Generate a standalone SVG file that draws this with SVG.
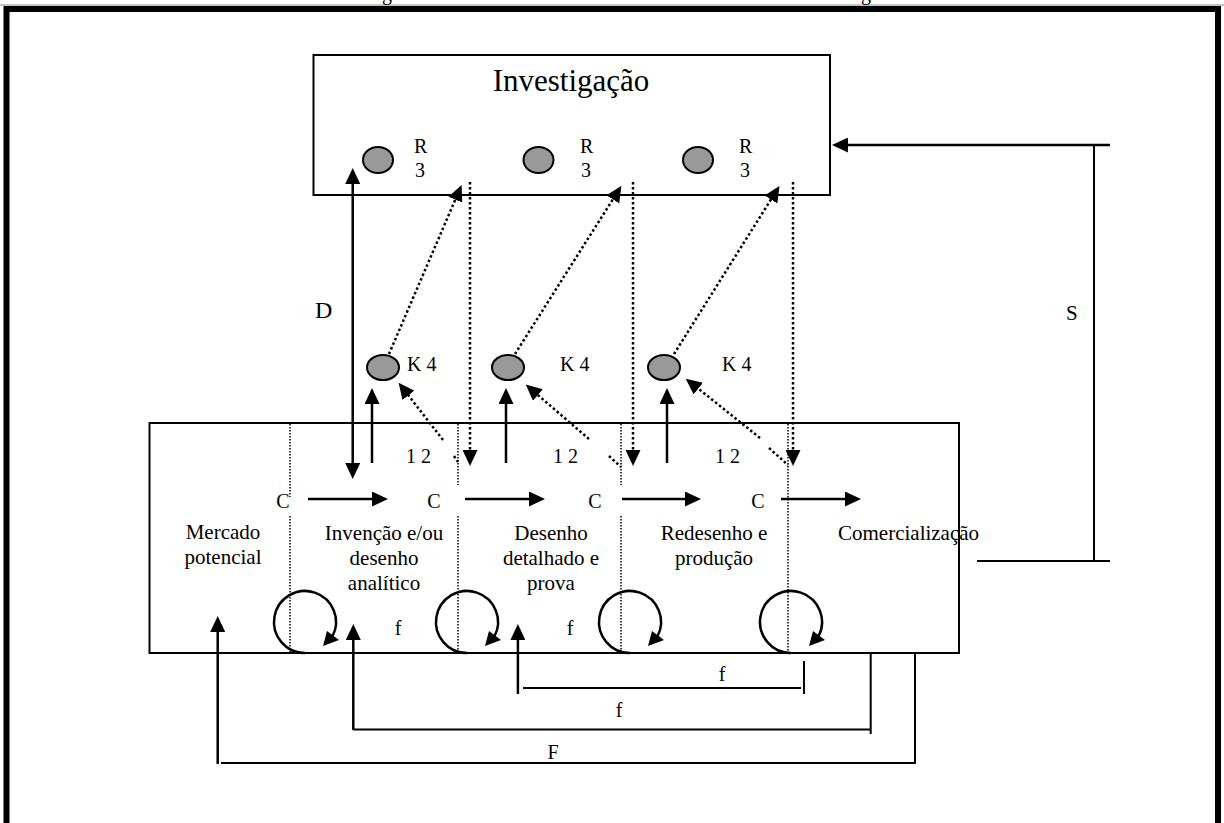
<svg xmlns="http://www.w3.org/2000/svg" xmlns:xlink="http://www.w3.org/1999/xlink" width="1224" height="823" viewBox="0 0 1224 823">
  <style>
    text { font-family: "Liberation Serif", "Times New Roman", serif; fill: #000; }
    .box { fill: #fff; stroke: #000; stroke-width: 2; }
    .ln { stroke: #000; stroke-width: 2.5; fill: none; }
    .fb { stroke: #000; stroke-width: 2; fill: none; }
    .dot { stroke: #000; stroke-width: 2.5; stroke-dasharray: 2.5 2.5; fill: none; }
    .div { stroke: #000; stroke-width: 1.5; stroke-dasharray: 1.5 1.5; fill: none; }
    .res { fill: #999; stroke: #000; stroke-width: 2; }
    .lbl { font-size: 20px; }
    .stage { font-size: 21px; }
    .mid { text-anchor: middle; }
    .arr { marker-end: url(#ah); }
  </style>
  <defs>
    <marker id="ah" viewBox="0 0 16 15" refX="1" refY="7.5" markerWidth="16" markerHeight="15" markerUnits="userSpaceOnUse" orient="auto-start-reverse">
      <path d="M0,0 L16,7.5 L0,15 z" fill="#000"/>
    </marker>
    <!-- feedback loop drawn round its centre -->
    <g id="loop">
      <path d="M0,31 A31,31 0 1 1 27.4,14.5" stroke="#000" stroke-width="2.5" fill="none"/>
      <polygon points="18,24 34,18 22,9" fill="#000"/>
    </g>
  </defs>

  <rect width="1224" height="823" fill="#fff"/>

  <!-- page frame -->
  <line x1="0" y1="5" x2="1224" y2="5" stroke="#888" stroke-width="1"/>
  <path d="M6.5,823 V9 H1218 V823" stroke="#000" stroke-width="6" fill="none"/>
  <text class="lbl" x="382" y="0">g</text>
  <text class="lbl" x="861" y="0">g</text>

  <!-- research box -->
  <g id="investigacao">
    <rect class="box" x="313.5" y="55" width="516.5" height="140"/>
    <text class="mid" x="571" y="91" font-size="31">Investigação</text>
    <ellipse class="res" cx="378" cy="160" rx="15" ry="13"/>
    <ellipse class="res" cx="538.5" cy="160" rx="15" ry="13"/>
    <ellipse class="res" cx="698" cy="160" rx="15" ry="13"/>
    <text class="lbl" x="414" y="153">R</text>
    <text class="lbl" x="415" y="177">3</text>
    <text class="lbl" x="580" y="153">R</text>
    <text class="lbl" x="581" y="177">3</text>
    <text class="lbl" x="739" y="153">R</text>
    <text class="lbl" x="740" y="177">3</text>
  </g>

  <!-- knowledge nodes -->
  <g id="k1">
    <ellipse class="res" cx="383" cy="367.5" rx="16" ry="12.5"/>
    <text class="lbl" x="407" y="371">K 4</text>
  </g>
  <g id="k2">
    <ellipse class="res" cx="508" cy="367.5" rx="16" ry="12.5"/>
    <text class="lbl" x="560" y="371">K 4</text>
  </g>
  <g id="k3">
    <ellipse class="res" cx="664" cy="367.5" rx="16" ry="12.5"/>
    <text class="lbl" x="722" y="371">K  4</text>
  </g>

  <!-- chain of innovation stages -->
  <g id="cadeia">
    <rect class="box" x="149.5" y="423" width="809.5" height="230"/>
    <line class="div" x1="290" y1="424" x2="290" y2="497"/>
    <line class="div" x1="290" y1="516" x2="290" y2="652"/>
    <line class="div" x1="458" y1="424" x2="458" y2="485"/>
    <line class="div" x1="458" y1="516" x2="458" y2="652"/>
    <line class="div" x1="621" y1="424" x2="621" y2="485"/>
    <line class="div" x1="621" y1="516" x2="621" y2="652"/>
    <line class="div" x1="788" y1="424" x2="788" y2="652"/>

    <text class="lbl mid" x="283" y="508">C</text>
    <text class="lbl mid" x="434" y="508">C</text>
    <text class="lbl mid" x="595" y="508">C</text>
    <text class="lbl mid" x="758" y="508">C</text>

    <text class="lbl" x="406" y="463">1 2</text>
    <text class="lbl" x="553" y="463">1 2</text>
    <text class="lbl" x="715" y="463">1 2</text>

    <text class="stage mid" x="223" y="539">Mercado</text>
    <text class="stage mid" x="223" y="564">potencial</text>
    <text class="stage mid" x="384" y="540">Invenção e/ou</text>
    <text class="stage mid" x="384" y="565">desenho</text>
    <text class="stage mid" x="384" y="590">analítico</text>
    <text class="stage mid" x="551" y="540">Desenho</text>
    <text class="stage mid" x="551" y="565">detalhado e</text>
    <text class="stage mid" x="551" y="590">prova</text>
    <text class="stage mid" x="714" y="540">Redesenho e</text>
    <text class="stage mid" x="714" y="565">produção</text>
    <text class="stage" x="838" y="540">Comercialização</text>

    <text class="lbl mid" x="398" y="635">f</text>
    <text class="lbl mid" x="570" y="635">f</text>

    <use xlink:href="#loop" x="305" y="622"/>
    <use xlink:href="#loop" x="467" y="622"/>
    <use xlink:href="#loop" x="630" y="622"/>
    <use xlink:href="#loop" x="791" y="622"/>
  </g>

  <!-- connectors -->
  <g id="connectors">
    <!-- stage-to-stage links -->
    <line class="ln arr" x1="308" y1="499" x2="373" y2="499"/>
    <line class="ln arr" x1="465" y1="499" x2="530" y2="499"/>
    <line class="ln arr" x1="622" y1="499" x2="686" y2="499"/>
    <line class="ln arr" x1="781" y1="499" x2="846" y2="499"/>

    <!-- D: two-way link between research and invention -->
    <line class="ln" x1="352.7" y1="183" x2="352.7" y2="464" marker-start="url(#ah)" marker-end="url(#ah)"/>
    <text x="315" y="318" font-size="24">D</text>

    <!-- stages feeding knowledge -->
    <line class="ln arr" x1="372" y1="463" x2="372" y2="403"/>
    <line class="ln arr" x1="506" y1="463" x2="506" y2="403"/>
    <line class="ln arr" x1="667" y1="463" x2="667" y2="403"/>

    <!-- knowledge to research -->
    <line class="dot arr" x1="389" y1="354" x2="455.7" y2="198.7"/>
    <line class="dot arr" x1="515" y1="354" x2="613.4" y2="198.5"/>
    <line class="dot arr" x1="674" y1="354" x2="771.5" y2="198.6"/>

    <!-- research back to the stages -->
    <line class="dot arr" x1="470" y1="182" x2="470" y2="451"/>
    <line class="dot arr" x1="633" y1="182" x2="633" y2="451"/>
    <line class="dot arr" x1="793" y1="182" x2="793" y2="451"/>

    <!-- stages back to knowledge -->
    <line class="dot arr" x1="443" y1="440" x2="407.8" y2="394.6"/>
    <line class="dot" x1="454" y1="456" x2="458" y2="462"/>
    <line class="dot arr" x1="589" y1="439" x2="537.1" y2="394.4"/>
    <line class="dot" x1="609" y1="456" x2="621" y2="467"/>
    <line class="dot arr" x1="760" y1="438" x2="697.5" y2="388"/>
    <line class="dot" x1="769" y1="448" x2="788" y2="465"/>

    <!-- S: market feedback to research -->
    <line class="ln arr" x1="1110" y1="145" x2="847" y2="145"/>
    <line class="fb" x1="1094" y1="145" x2="1094" y2="561"/>
    <line class="fb" x1="977" y1="561" x2="1110" y2="561"/>
    <text x="1066" y="320" font-size="21">S</text>

    <!-- short feedback f -->
    <line class="ln arr" x1="517.9" y1="694" x2="517.9" y2="639"/>
    <line class="fb" x1="523" y1="688" x2="801" y2="688"/>
    <line class="fb" x1="804" y1="661" x2="804" y2="694"/>
    <text class="lbl mid" x="722" y="681">f</text>

    <!-- feedback f -->
    <line class="ln arr" x1="353.3" y1="730" x2="353.3" y2="639"/>
    <line class="fb" x1="353.3" y1="729.5" x2="870.7" y2="729.5"/>
    <line class="fb" x1="870.7" y1="653" x2="870.7" y2="734"/>
    <text class="lbl mid" x="619" y="717">f</text>

    <!-- overall feedback F -->
    <line class="ln arr" x1="217.7" y1="764" x2="217.7" y2="631"/>
    <line class="fb" x1="221" y1="763" x2="915" y2="763"/>
    <line class="fb" x1="915" y1="653" x2="915" y2="764"/>
    <text class="lbl mid" x="553" y="759">F</text>
  </g>
</svg>
